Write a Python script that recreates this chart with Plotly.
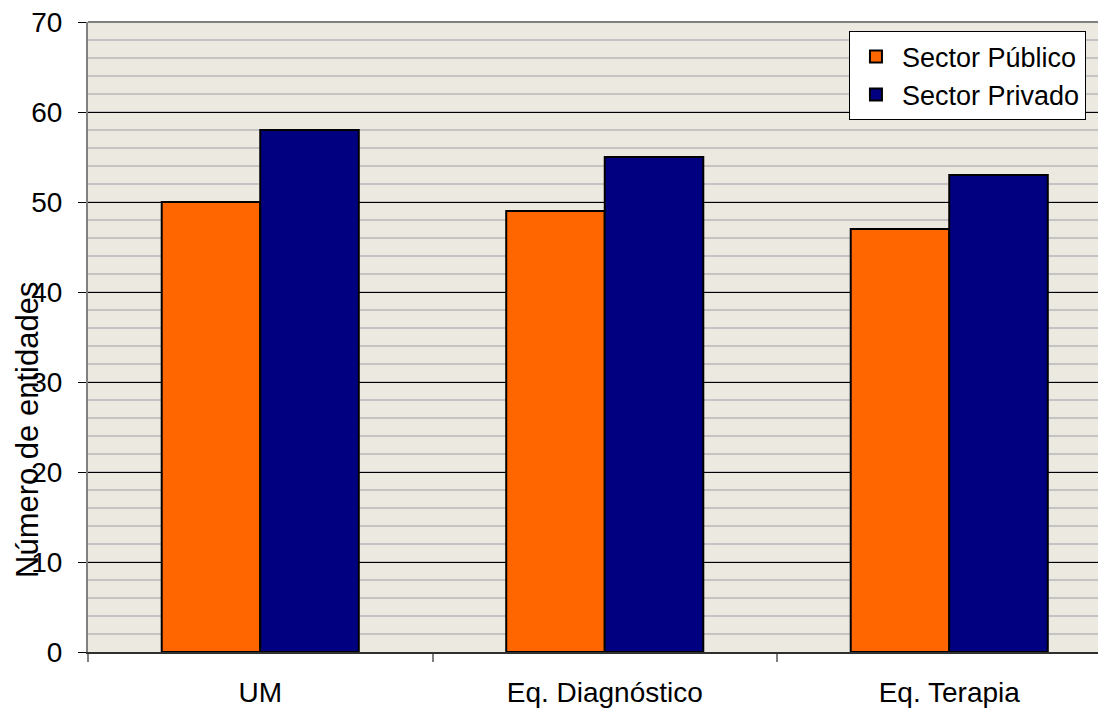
import plotly.graph_objects as go

categories = ["UM", "Eq. Diagnóstico", "Eq. Terapia"]
publico = [50, 49, 47]
privado = [58, 55, 53]
series_names = ["Sector Público", "Sector Privado"]
y_ticks = [0, 10, 20, 30, 40, 50, 60, 70]

FONT = "Liberation Sans, Arial, sans-serif"

fig = go.Figure()
fig.add_trace(go.Bar(
    x=categories, y=publico, name=series_names[0], legendgroup="a",
    marker=dict(color="#FF6600", line=dict(color="#000000", width=2)),
))
fig.add_trace(go.Bar(
    x=categories, y=privado, name=series_names[1], legendgroup="b",
    marker=dict(color="#000080", line=dict(color="#000000", width=2)),
))

# page body has an 8px margin: plot area on page is x 88..1106, y 22..652
fig.update_layout(
    width=1106, height=712,
    margin=dict(l=80, r=8, t=14, b=68, autoexpand=False),
    paper_bgcolor="white",
    plot_bgcolor="#ECE9E0",
    barmode="group",
    bargap=0.428,
    bargroupgap=0,
    font=dict(family=FONT, color="black", size=28),
    showlegend=True,
    legend=dict(
        x=0.7475, y=0.985, xanchor="left", yanchor="top",
        bgcolor="white", bordercolor="black", borderwidth=1,
        font=dict(size=27, family=FONT),
        tracegroupgap=2,
        itemwidth=42,
        traceorder="normal",
    ),
    xaxis=dict(
        type="category",
        range=[-0.5, 2.455],
        automargin=False,
        tickson="boundaries",
        ticks="outside", ticklen=8, tickcolor="#808080", tickwidth=2,
        showline=True, linecolor="#303030", linewidth=2,
        showgrid=False,
        tickfont=dict(size=28, family=FONT),
        ticklabelstandoff=14,
        ticklabeloverflow="allow",
    ),
    yaxis=dict(
        range=[0, 70],
        automargin=False,
        tickvals=y_ticks,
        ticks="outside", ticklen=8, tickcolor="#000000", tickwidth=1,
        showline=True, linecolor="#808080", linewidth=2,
        showgrid=True, gridcolor="#000000", gridwidth=1,
        minor=dict(dtick=2, showgrid=True, gridcolor="#C4C4C4", gridwidth=1.5, ticks=""),
        tickfont=dict(size=28, family=FONT),
        ticklabelstandoff=10,
        ticklabeloverflow="allow",
        zeroline=False,
    ),
    shapes=[dict(type="line", xref="paper", yref="paper", x0=0, x1=1, y0=1, y1=1,
                 line=dict(color="#808080", width=2))],
    annotations=[dict(
        text="Número de entidades", xref="paper", yref="paper",
        x=(28 - 88) / 1018, y=(652 - 430) / 630, xanchor="center", yanchor="middle",
        textangle=-90, showarrow=False, font=dict(size=31, family=FONT, color="black"),
    )],
)

fig.write_html("out.html")
